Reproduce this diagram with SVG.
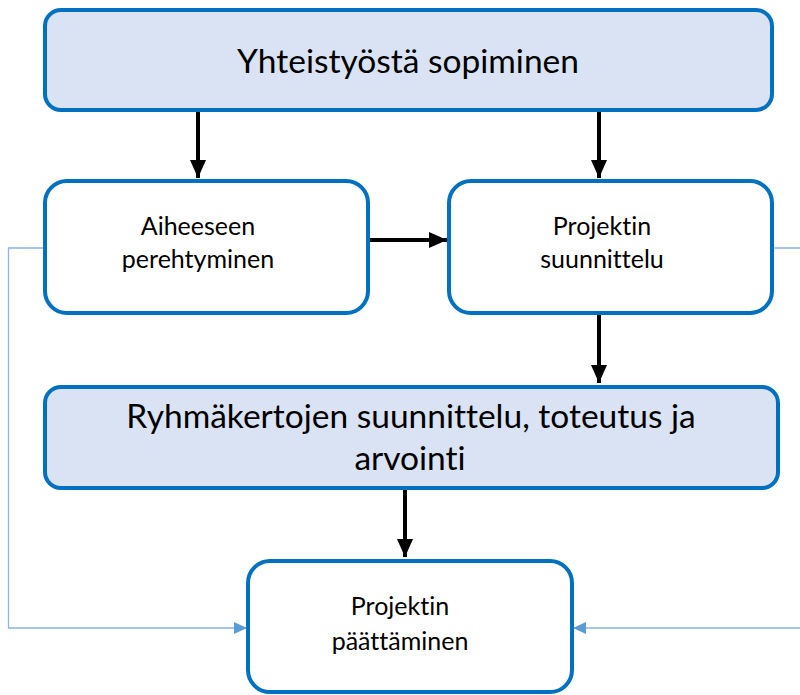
<svg xmlns="http://www.w3.org/2000/svg" width="800" height="695" viewBox="0 0 800 695">
<defs>
<style>
.box{stroke:#0070C0;stroke-width:4;}
.blue{fill:#DAE3F3;}
.white{fill:#FFFFFF;}
text{font-family:Lato,"Liberation Sans",sans-serif;fill:#000;text-anchor:middle;font-variant-ligatures:none;}
.big{font-size:33.5px;}
.small{font-size:25px;}
.arrow{stroke:#000;stroke-width:4;fill:none;}
.fb{stroke:#8DB4E2;stroke-width:1.3;fill:none;}
</style>
<marker id="ah" markerWidth="5" markerHeight="4" refX="4.5" refY="2" orient="auto" markerUnits="strokeWidth">
<path d="M0,0 L4.5,2 L0,4 Z" fill="#000"/>
</marker>
<marker id="ahl" markerWidth="14" markerHeight="12" refX="13" refY="6" orient="auto" markerUnits="userSpaceOnUse">
<path d="M0,0 L13,6 L0,12 Z" fill="#5B9BD5"/>
</marker>
</defs>
<g id="connectors">
<line class="arrow" x1="198" y1="111" x2="198" y2="178" marker-end="url(#ah)"/>
<line class="arrow" x1="599" y1="111" x2="599" y2="178" marker-end="url(#ah)"/>
<line class="arrow" x1="370" y1="240" x2="447" y2="240" marker-end="url(#ah)"/>
<line class="arrow" x1="599" y1="315" x2="599" y2="383" marker-end="url(#ah)"/>
<line class="arrow" x1="405" y1="489" x2="405" y2="557" marker-end="url(#ah)"/>
<path class="fb" d="M43,248 H8.5 V628 H247" marker-end="url(#ahl)"/>
<path class="fb" d="M774,248 H803 V628 H573" marker-end="url(#ahl)"/>
</g>
<g id="node-yhteistyo">
<rect class="box blue" x="45" y="10" width="727" height="100" rx="16"/>
<text class="big" x="408" y="73">Yhteistyöstä sopiminen</text>
</g>
<g id="node-aiheeseen">
<rect class="box white" x="45" y="181" width="323" height="132" rx="22"/>
<text class="small" x="198" y="235">Aiheeseen</text>
<text class="small" x="198" y="268">perehtyminen</text>
</g>
<g id="node-projektin-suunnittelu">
<rect class="box white" x="449" y="181" width="323" height="132" rx="22"/>
<text class="small" x="602" y="235">Projektin</text>
<text class="small" x="602" y="268">suunnittelu</text>
</g>
<g id="node-ryhmakerrat">
<rect class="box blue" x="45" y="387" width="733" height="101" rx="16"/>
<text class="big" x="411" y="428">Ryhmäkertojen suunnittelu, toteutus ja</text>
<text class="big" x="410" y="470">arvointi</text>
</g>
<g id="node-paattaminen">
<rect class="box white" x="248" y="561" width="324" height="131" rx="22"/>
<text class="small" x="400" y="615">Projektin</text>
<text class="small" x="400" y="650">päättäminen</text>
</g>
</svg>
